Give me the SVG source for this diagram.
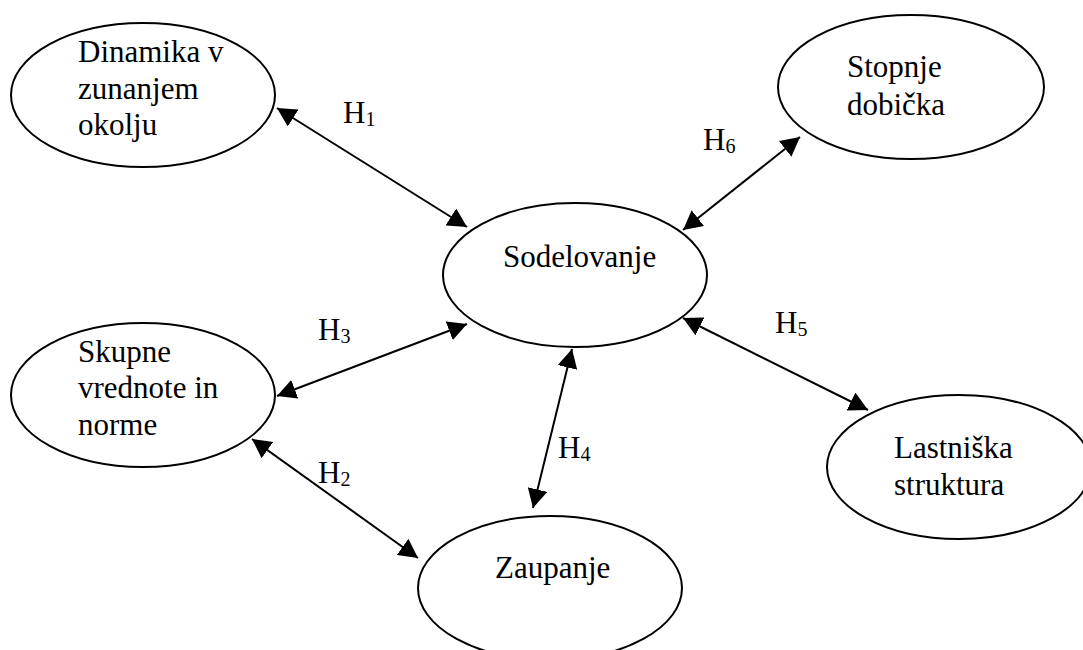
<svg xmlns="http://www.w3.org/2000/svg" width="1083" height="650" viewBox="0 0 1083 650">
  <style>
    .node ellipse { fill: #ffffff; stroke: #000000; stroke-width: 2; }
    .lbl { font-family: "Liberation Serif", "Times New Roman", serif; font-size: 31px; fill: #000000; }
    .sub { font-size: 20px; }
    .edge { stroke: #000000; stroke-width: 2; fill: none; marker-start: url(#arrow); marker-end: url(#arrow); }
  </style>
  <defs>
    <marker id="arrow" viewBox="0 0 19 20" refX="19" refY="10" markerWidth="19" markerHeight="20" markerUnits="userSpaceOnUse" orient="auto-start-reverse">
      <path d="M0,0 L19,10 L0,20 z" fill="#000000"/>
    </marker>
  </defs>
  <rect width="1083" height="650" fill="#ffffff"/>

  <!-- connectors -->
  <g id="connectors">
    <line class="edge" x1="277" y1="108" x2="467" y2="227"/>
    <line class="edge" x1="800" y1="137" x2="683" y2="230"/>
    <line class="edge" x1="277" y1="396" x2="467" y2="324"/>
    <line class="edge" x1="252" y1="439" x2="418" y2="558"/>
    <line class="edge" x1="572" y1="349" x2="533" y2="508"/>
    <line class="edge" x1="683" y1="318" x2="868" y2="410"/>
    <text class="lbl" x="343" y="123">H<tspan class="sub" dy="3">1</tspan></text>
    <text class="lbl" x="318" y="483">H<tspan class="sub" dy="3">2</tspan></text>
    <text class="lbl" x="318" y="340">H<tspan class="sub" dy="3">3</tspan></text>
    <text class="lbl" x="558" y="458">H<tspan class="sub" dy="3">4</tspan></text>
    <text class="lbl" x="775" y="333">H<tspan class="sub" dy="3">5</tspan></text>
    <text class="lbl" x="703" y="150">H<tspan class="sub" dy="3">6</tspan></text>
  </g>

  <g id="dinamika" class="node">
    <ellipse cx="143" cy="95" rx="132" ry="72"/>
    <text class="lbl" x="78" y="62">Dinamika v</text>
    <text class="lbl" x="78" y="99">zunanjem</text>
    <text class="lbl" x="78" y="135">okolju</text>
  </g>

  <g id="stopnje" class="node">
    <ellipse cx="911" cy="87" rx="133" ry="72"/>
    <text class="lbl" x="847" y="77">Stopnje</text>
    <text class="lbl" x="847" y="115">dobička</text>
  </g>

  <g id="sodelovanje" class="node">
    <ellipse cx="575" cy="275" rx="132" ry="72"/>
    <text class="lbl" x="503" y="267">Sodelovanje</text>
  </g>

  <g id="skupne" class="node">
    <ellipse cx="143" cy="395" rx="132" ry="72"/>
    <text class="lbl" x="78" y="362">Skupne</text>
    <text class="lbl" x="78" y="398">vrednote in</text>
    <text class="lbl" x="78" y="435">norme</text>
  </g>

  <g id="lastniska" class="node">
    <ellipse cx="959" cy="467" rx="132" ry="72"/>
    <text class="lbl" x="894" y="458">Lastniška</text>
    <text class="lbl" x="894" y="495">struktura</text>
  </g>

  <g id="zaupanje" class="node">
    <ellipse cx="550" cy="588" rx="132" ry="72"/>
    <text class="lbl" x="495" y="578">Zaupanje</text>
  </g>
</svg>
